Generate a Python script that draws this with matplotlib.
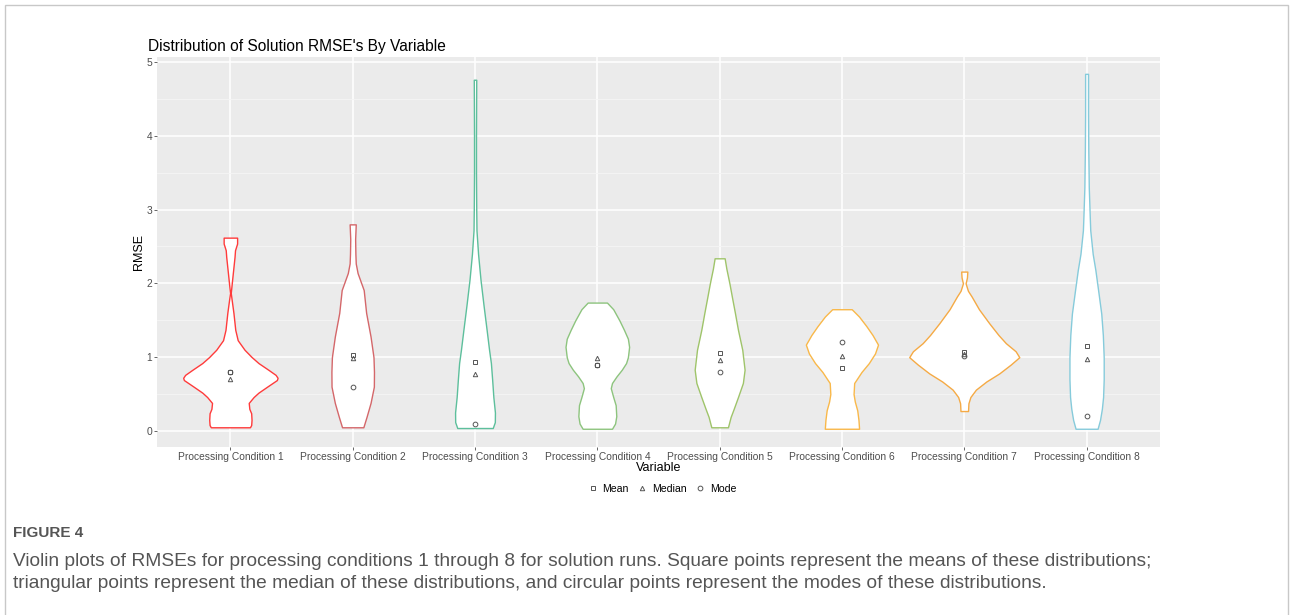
import matplotlib.pyplot as plt
from matplotlib.lines import Line2D
from matplotlib.patches import Rectangle

CONDITIONS = ["Processing Condition %d" % i for i in range(1, 9)]
COLORS = ["#FF3B3B", "#D4676A", "#5DBF9C", "#8DC47E", "#9FC46A", "#F9B84A", "#F5AA45", "#86CBDB"]

# violin outlines: rmse value and half width
c1_y = [2.62, 2.54, 2.45, 2.36, 2.14, 1.87, 1.6, 1.37, 1.23, 1.10, 1.0, 0.92, 0.83, 0.76, 0.72, 0.69, 0.60, 0.52, 0.46, 0.38, 0.30, 0.24, 0.15, 0.08, 0.05]
c1_w = [0.055, 0.055, 0.038, 0.034, 0.02, 0.003, 0.025, 0.04, 0.06, 0.116, 0.175, 0.23, 0.31, 0.37, 0.386, 0.38, 0.30, 0.23, 0.19, 0.15, 0.155, 0.17, 0.173, 0.17, 0.16]

c2_y = [2.80, 2.6, 2.4, 2.27, 2.14, 1.91, 1.6, 1.28, 1.0, 0.8, 0.6, 0.38, 0.19, 0.05]
c2_w = [0.025, 0.02, 0.022, 0.025, 0.04, 0.09, 0.11, 0.146, 0.17, 0.174, 0.173, 0.146, 0.113, 0.087]

c3_y = [4.76, 4.0, 3.5, 3.0, 2.72, 2.4, 2.05, 1.7, 1.37, 1.1, 0.92, 0.7, 0.46, 0.25, 0.12, 0.04]
c3_w = [0.01, 0.008, 0.008, 0.01, 0.012, 0.025, 0.045, 0.07, 0.095, 0.115, 0.13, 0.14, 0.15, 0.163, 0.162, 0.145]

c4_y = [1.74, 1.65, 1.5, 1.37, 1.25, 1.14, 1.0, 0.92, 0.83, 0.74, 0.65, 0.58, 0.46, 0.35, 0.2, 0.1, 0.03]
c4_w = [0.079, 0.13, 0.18, 0.218, 0.25, 0.26, 0.25, 0.235, 0.2, 0.157, 0.12, 0.11, 0.13, 0.15, 0.155, 0.145, 0.12]

c5_y = [2.34, 2.2, 2.0, 1.82, 1.6, 1.37, 1.1, 0.83, 0.65, 0.46, 0.3, 0.19, 0.05]
c5_w = [0.041, 0.055, 0.08, 0.10, 0.125, 0.15, 0.185, 0.204, 0.19, 0.15, 0.115, 0.09, 0.068]

c6_y = [1.65, 1.55, 1.42, 1.3, 1.17, 1.05, 0.92, 0.8, 0.65, 0.5, 0.4, 0.28, 0.15, 0.03]
c6_w = [0.08, 0.14, 0.2, 0.25, 0.295, 0.27, 0.22, 0.16, 0.10, 0.095, 0.105, 0.125, 0.135, 0.14]

c7_y = [2.16, 2.08, 2.0, 1.9, 1.82, 1.65, 1.46, 1.3, 1.19, 1.08, 1.0, 0.9, 0.78, 0.67, 0.56, 0.46, 0.375, 0.27]
c7_w = [0.025, 0.022, 0.011, 0.03, 0.061, 0.12, 0.204, 0.28, 0.34, 0.42, 0.45, 0.38, 0.286, 0.18, 0.095, 0.05, 0.034, 0.031]

c8_y = [4.84, 4.3, 3.8, 3.3, 2.9, 2.72, 2.4, 2.18, 1.9, 1.59, 1.3, 1.0, 0.7, 0.46, 0.3, 0.15, 0.03]
c8_w = [0.012, 0.012, 0.014, 0.018, 0.026, 0.03, 0.05, 0.072, 0.095, 0.12, 0.133, 0.14, 0.14, 0.135, 0.125, 0.11, 0.09]

PROFILES = [(c1_y, c1_w), (c2_y, c2_w), (c3_y, c3_w), (c4_y, c4_w),
            (c5_y, c5_w), (c6_y, c6_w), (c7_y, c7_w), (c8_y, c8_w)]

means = [0.80, 1.03, 0.93, 0.90, 1.05, 0.86, 1.07, 1.15]
medians = [0.70, 0.99, 0.77, 0.99, 0.96, 1.01, 1.04, 0.98]
modes = [0.80, 0.60, 0.10, 0.90, 0.80, 1.20, 1.01, 0.20]

plt.rcParams['font.family'] = ['Liberation Sans', 'DejaVu Sans']

fig = plt.figure(figsize=(12.9, 6.15), dpi=100)
ax = fig.add_axes([0.1217, 0.2732, 0.7775, 0.6341])
ax.set_facecolor("#EBEBEB")
for s in ax.spines.values():
    s.set_visible(False)

ax.set_xlim(0.4, 8.6)
ax.set_ylim(-0.217, 5.068)
ax.set_yticks([0, 1, 2, 3, 4, 5])
ax.set_yticks([0.5, 1.5, 2.5, 3.5, 4.5], minor=True)
ax.set_xticks(range(1, 9))
ax.set_xticklabels(CONDITIONS)
ax.grid(True, which="major", color="white", lw=1.1)
ax.grid(True, which="minor", axis="y", color="#F5F5F5", lw=0.6)
ax.set_axisbelow(True)
ax.tick_params(which="major", length=2.5, width=0.6, color="#4D4D4D", labelcolor="#4D4D4D", labelsize=7.4, pad=1)
ax.tick_params(which="minor", length=0)

for i, (ys, ws) in enumerate(PROFILES):
    xc = i + 1
    ax.fill_betweenx(ys, [xc - w for w in ws], [xc + w for w in ws],
                     facecolor="white", edgecolor=COLORS[i], lw=1.0, zorder=2)

pos = list(range(1, 9))
mk = dict(ls="none", mfc="none", mec="#555555", mew=0.7, zorder=3)
ax.plot(pos, means, marker="s", ms=3.0, **mk)
ax.plot(pos, medians, marker="^", ms=3.2, **mk)
ax.plot(pos, modes, marker="o", ms=3.4, **mk)

ax.set_title("Distribution of Solution RMSE's By Variable", loc="left", fontsize=11.2, x=-0.009, pad=4)
ax.set_xlabel("Variable", fontsize=9, labelpad=0)
ax.set_ylabel("RMSE", fontsize=9, labelpad=1)

handles = [
    Line2D([], [], marker="s", ms=3.0, **mk),
    Line2D([], [], marker="^", ms=3.2, **mk),
    Line2D([], [], marker="o", ms=3.4, **mk),
]
fig.legend(handles, ["Mean", "Median", "Mode"], loc="center", bbox_to_anchor=(0.513, 0.205),
           ncol=3, frameon=False, fontsize=7.6, handlelength=1.0, handletextpad=0.4, columnspacing=0.8)

fig.patches.append(Rectangle((5 / 1290, -0.05), 1283 / 1290, 1.05 - 5 / 615, transform=fig.transFigure,
                             fill=False, edgecolor="#C8C8C8", lw=1.0))

cap_font = ['Liberation Sans', 'DejaVu Sans']
fig.text(13 / 1290, 1 - 533 / 615, "FIGURE 4", fontsize=11, fontweight="bold", color="#555555",
         family=cap_font, va="center")
fig.text(13 / 1290, 1 - 561 / 615,
         "Violin plots of RMSEs for processing conditions 1 through 8 for solution runs. Square points represent the means of these distributions;",
         fontsize=13.8, color="#555555", family=cap_font, va="center")
fig.text(13 / 1290, 1 - 583 / 615,
         "triangular points represent the median of these distributions, and circular points represent the modes of these distributions.",
         fontsize=13.8, color="#555555", family=cap_font, va="center")

fig.savefig("out.png", dpi=100)
